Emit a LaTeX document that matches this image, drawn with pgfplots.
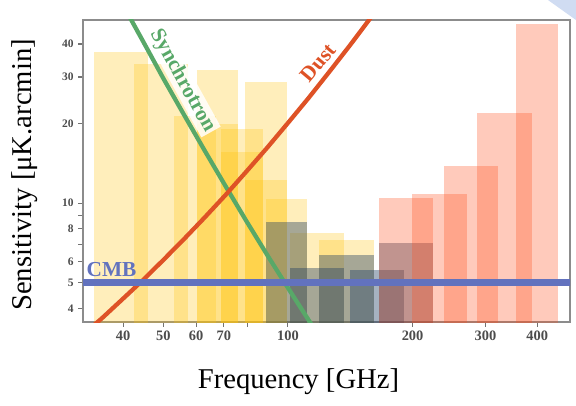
\documentclass[border=0pt]{standalone}
\usepackage{fontspec}
\setmainfont{Liberation Serif}
\usepackage{pgfplots}
\pgfplotsset{compat=1.18}

\definecolor{lft}{RGB}{255,195,10}
\definecolor{mft}{RGB}{33,62,98}
\definecolor{hft}{RGB}{255,80,30}
\definecolor{sync}{RGB}{88,168,104}
\definecolor{dust}{RGB}{222,82,38}
\definecolor{cmb}{RGB}{98,114,190}
\definecolor{corner}{RGB}{208,220,242}

\pgfplotsset{
  lftbar/.style={fill=lft, fill opacity=0.28, draw=none, forget plot},
  mftbar/.style={fill=mft, fill opacity=0.4, draw=none, forget plot},
  hftbar/.style={fill=hft, fill opacity=0.3, draw=none, forget plot},
}

\begin{document}
\begin{tikzpicture}
\path[use as bounding box] (-62.25pt,-62.25pt) rectangle (369.75pt,241.5pt);
\fill[corner] (348.75pt,241.5pt) -- (369.75pt,241.5pt) -- (369.75pt,226.5pt) -- cycle;
\begin{axis}[
  scale only axis, width=365.25pt, height=226.5pt,
  xmode=log, ymode=log,
  xmin=32, xmax=480, ymin=3.55, ymax=49.3,
  xtick={40,50,60,70,80,100,200,300,400},
  xticklabels={40,50,60,70,,100,200,300,400},
  ytick={4,5,6,7,8,9,10,20,30,40},
  yticklabels={4,5,6,,8,,10,20,30,40},
  xminorticks=false, yminorticks=false,
  tick pos=left, tick align=outside, major tick length=3.5pt,
  axis line style={black!45, line width=0.9pt},
  every tick/.style={black!55, line width=0.8pt},
  /pgf/number format/assume math mode=true,
  xticklabel style={font=\fontsize{10.8}{12}\selectfont\bfseries, text=black!70},
  yticklabel style={font=\fontsize{8.6}{10}\selectfont\bfseries, text=black!70},
  xlabel={Frequency [GHz]},
  ylabel={Sensitivity [μK.arcmin]},
  label style={font=\fontsize{21.5}{24}\selectfont},
  xlabel style={at={(rel axis cs:0.4425,-0.199)}, anchor=center},
  ylabel style={at={(rel axis cs:-0.119,0.487)}, anchor=center},
]
% LFT
\addplot[lftbar] coordinates {(34,1) (34,37.42) (46,37.42) (46,1)};
\addplot[lftbar] coordinates {(42.5,1) (42.5,33.46) (57.5,33.46) (57.5,1)};
\addplot[lftbar] coordinates {(53.1,1) (53.1,21.31) (66.9,21.31) (66.9,1)};
\addplot[lftbar] coordinates {(60.18,1) (60.18,19.91) (75.82,19.91) (75.82,1)};
\addplot[lftbar] coordinates {(60.18,1) (60.18,31.77) (75.82,31.77) (75.82,1)};
\addplot[lftbar] coordinates {(69.03,1) (69.03,15.55) (86.97,15.55) (86.97,1)};
\addplot[lftbar] coordinates {(69.03,1) (69.03,19.13) (86.97,19.13) (86.97,1)};
\addplot[lftbar] coordinates {(78.77,1) (78.77,12.28) (99.24,12.28) (99.24,1)};
\addplot[lftbar] coordinates {(78.77,1) (78.77,28.77) (99.24,28.77) (99.24,1)};
\addplot[lftbar] coordinates {(88.5,1) (88.5,10.34) (111.5,10.34) (111.5,1)};
\addplot[lftbar] coordinates {(101.15,1) (101.15,7.69) (136.85,7.69) (136.85,1)};
\addplot[lftbar] coordinates {(119,1) (119,7.25) (161,7.25) (161,1)};
% MFT
\addplot[mftbar] coordinates {(88.5,1) (88.5,8.48) (111.5,8.48) (111.5,1)};
\addplot[mftbar] coordinates {(101.15,1) (101.15,5.70) (136.85,5.70) (136.85,1)};
\addplot[mftbar] coordinates {(119,1) (119,6.38) (161,6.38) (161,1)};
\addplot[mftbar] coordinates {(141.1,1) (141.1,5.57) (190.9,5.57) (190.9,1)};
\addplot[mftbar] coordinates {(165.75,1) (165.75,7.05) (224.25,7.05) (224.25,1)};
% HFT
\addplot[hftbar] coordinates {(165.75,1) (165.75,10.50) (224.25,10.50) (224.25,1)};
\addplot[hftbar] coordinates {(199.75,1) (199.75,10.79) (270.25,10.79) (270.25,1)};
\addplot[hftbar] coordinates {(238,1) (238,13.80) (322,13.80) (322,1)};
\addplot[hftbar] coordinates {(286.45,1) (286.45,21.95) (387.55,21.95) (387.55,1)};
\addplot[hftbar] coordinates {(355.77,1) (355.77,47.45) (448.23,47.45) (448.23,1)};

\node[rotate=-61, fill=white, fill opacity=0.85, text opacity=1, inner sep=1pt,
  text=sync, font=\fontsize{16}{18}\selectfont\bfseries] at (axis cs:55.7,29.0) {Synchrotron};

% synchrotron
\addplot[sync, line width=3.2pt] coordinates {
  (39.8,56.9) (44.7,40.9) (50.1,29.5) (56.2,21.5) (63.1,15.7) (70.8,11.55)
  (79.4,8.55) (89.1,6.37) (100,4.78) (112.2,3.61) (120.2,3.05)};
% dust
\addplot[dust, line width=3.2pt] coordinates {
  (31.6,3.13) (35.5,3.66) (39.8,4.32) (44.7,5.12) (50.1,6.11) (56.2,7.33)
  (63.1,8.86) (70.8,10.76) (79.4,13.17) (89.1,16.2) (100,20.1) (112.2,25.0)
  (125.9,31.4) (141.3,39.6) (158.5,50.3) (169.8,58.2)};
% CMB
\addplot[cmb, line width=5pt] coordinates {(20,5) (600,5)};

\node[rotate=50, text=dust, font=\fontsize{16}{18}\selectfont\bfseries] at (axis cs:118.3,33.9) {Dust};
\node[anchor=west, inner sep=0pt, text=cmb, font=\fontsize{16}{18}\selectfont\bfseries] at (axis cs:32.6,5.6) {CMB};
\end{axis}
\end{tikzpicture}
\end{document}
